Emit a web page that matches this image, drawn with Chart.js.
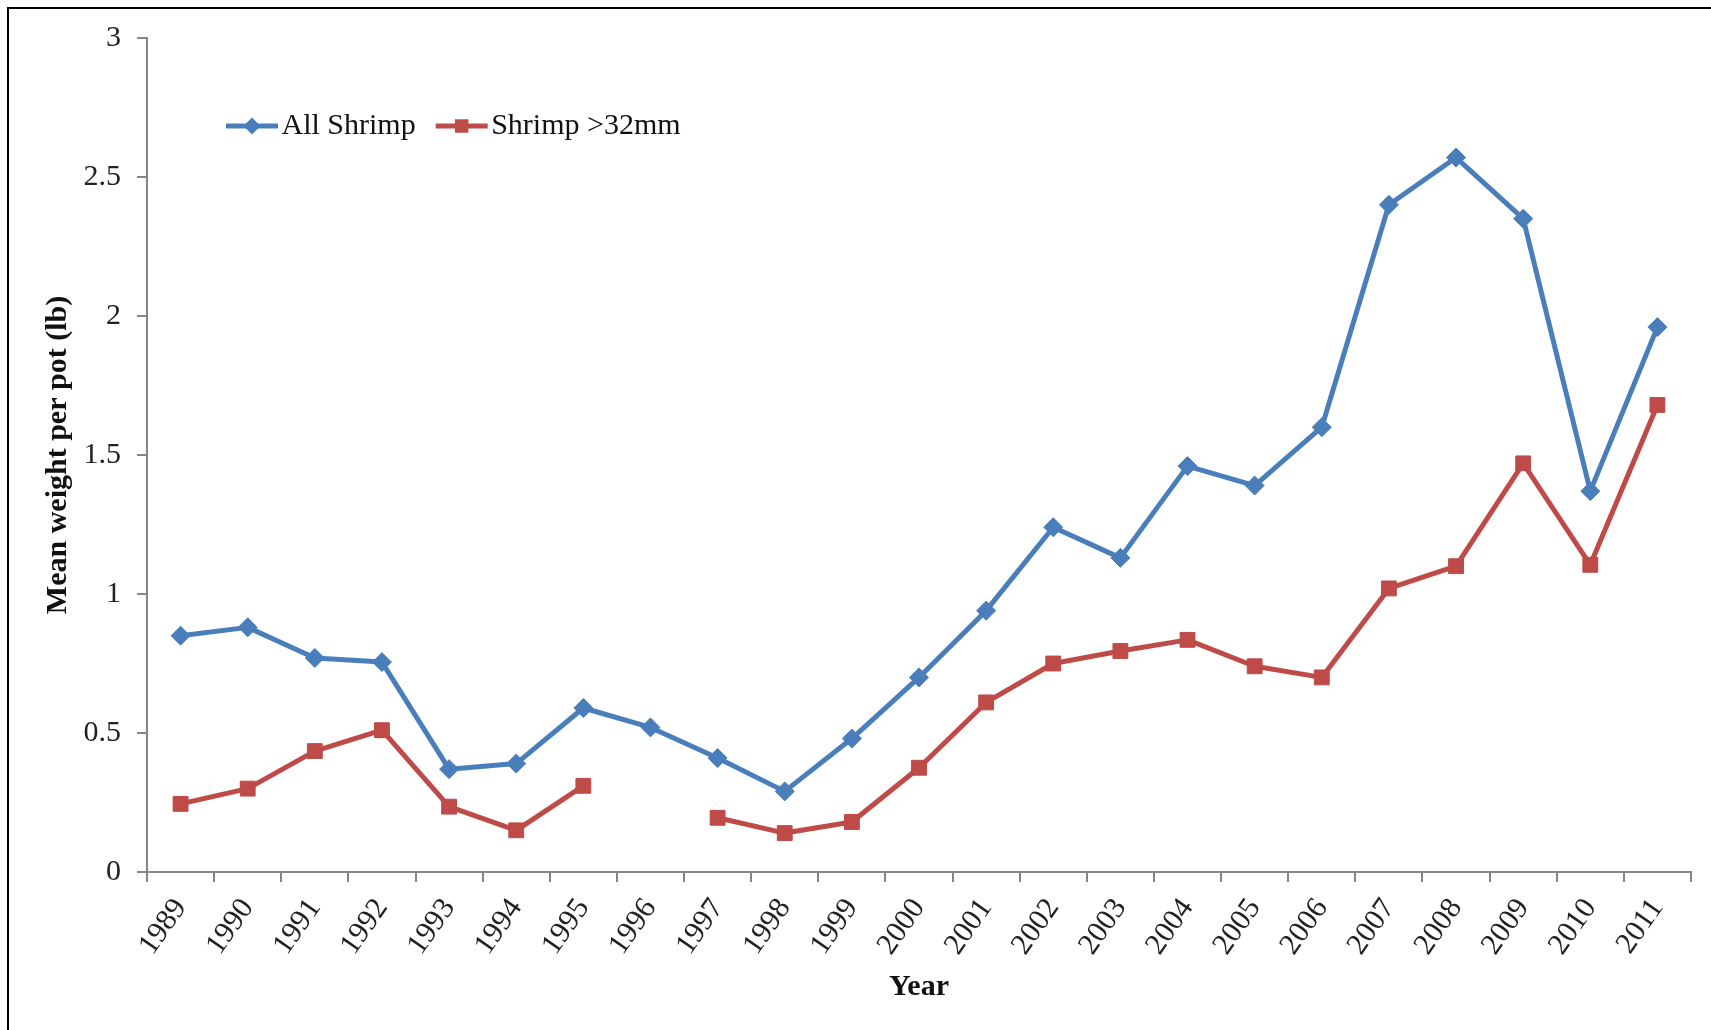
<!DOCTYPE html>
<html lang="en">
<head>
<meta charset="UTF-8">
<title>Mean weight per pot</title>
<script src="https://cdn.jsdelivr.net/npm/chart.js"></script>
<style>
  html, body { margin: 0; padding: 0; background: #fff; overflow: hidden; }
  #wrap { position: relative; width: 1711px; height: 1030px; }
  #frame { position: absolute; left: 7px; top: 7px; right: -10px; bottom: -10px;
           border-left: 2px solid #000; border-top: 2px solid #000; pointer-events: none; }
  canvas { position: absolute; left: 0; top: 0; }
</style>
</head>
<body>
<div id="wrap">
  <canvas id="shrimpChart" width="1711" height="1030"></canvas>
  <div id="frame"></div>
</div>

<script>
const years = ['1989', '1990', '1991', '1992', '1993', '1994', '1995', '1996', '1997', '1998', '1999', '2000',
               '2001', '2002', '2003', '2004', '2005', '2006', '2007', '2008', '2009', '2010', '2011'];
const allShrimp = [0.85, 0.88, 0.77, 0.755, 0.37, 0.39, 0.59, 0.52, 0.41, 0.29, 0.48, 0.70,
                   0.94, 1.24, 1.13, 1.46, 1.39, 1.60, 2.40, 2.57, 2.35, 1.37, 1.96];
const shrimpOver32 = [0.245, 0.30, 0.435, 0.51, 0.235, 0.15, 0.31, null, 0.195, 0.14, 0.18, 0.375,
                      0.61, 0.75, 0.795, 0.835, 0.74, 0.70, 1.02, 1.10, 1.47, 1.105, 1.68];
const yTicks = [0, 0.5, 1, 1.5, 2, 2.5, 3];

const BLUE = '#4A7EBB';
const RED = '#BE4B48';
const AXIS = '#868686';
const FONT = '"Liberation Serif", "Times New Roman", serif';

function drawMarker(ctx, style, x, y, r, color) {
    ctx.fillStyle = color;
    ctx.beginPath();
    if (style === 'rectRot') {
        ctx.moveTo(x - r, y);
        ctx.lineTo(x, y - r);
        ctx.lineTo(x + r, y);
        ctx.lineTo(x, y + r);
    } else {
        const h = r * Math.SQRT1_2;
        ctx.rect(x - h, y - h, 2 * h, 2 * h);
    }
    ctx.closePath();
    ctx.fill();
}

// legend sits inside the plot, like the Excel original
const insideLegend = {
    id: 'insideLegend',
    afterDraw(chart) {
        const ctx = chart.ctx;
        ctx.save();
        ctx.font = '30px ' + FONT;
        ctx.textBaseline = 'middle';
        let x = 226;
        const y = 126;
        chart.data.datasets.forEach(ds => {
            ctx.strokeStyle = ds.borderColor;
            ctx.lineWidth = ds.borderWidth;
            ctx.beginPath();
            ctx.moveTo(x, y);
            ctx.lineTo(x + 52, y);
            ctx.stroke();
            drawMarker(ctx, ds.pointStyle, x + 26, y, ds.pointRadius - 1, ds.borderColor);
            ctx.fillStyle = '#111';
            ctx.fillText(ds.label, x + 55.5, y);
            x += 55.5 + ctx.measureText(ds.label).width + 20;
        });
        ctx.restore();
    }
};

const ctx = document.getElementById('shrimpChart').getContext('2d');
new Chart(ctx, {
    type: 'line',
    data: {
        labels: years,
        datasets: [{
            label: 'All Shrimp',
            data: allShrimp,
            borderColor: BLUE,
            backgroundColor: BLUE,
            borderWidth: 5,
            pointStyle: 'rectRot',
            pointRadius: 9.5,
            pointHoverRadius: 9.5,
            pointBorderWidth: 1,
            borderJoinStyle: 'round',
            tension: 0
        }, {
            label: 'Shrimp >32mm',
            data: shrimpOver32,
            borderColor: RED,
            backgroundColor: RED,
            borderWidth: 5,
            pointStyle: 'rect',
            pointRadius: 10.5,
            pointHoverRadius: 10.5,
            pointBorderWidth: 1,
            borderJoinStyle: 'round',
            spanGaps: false,
            tension: 0
        }]
    },
    options: {
        responsive: false,
        animation: false,
        layout: { padding: { top: 38, right: 20, left: 0, bottom: 0 } },
        plugins: {
            legend: { display: false },
            tooltip: { enabled: false }
        },
        scales: {
            x: {
                type: 'category',
                offset: true,
                grid: {
                    offset: true,
                    drawOnChartArea: false,
                    drawTicks: true,
                    tickLength: 10,
                    color: AXIS,
                    lineWidth: 2
                },
                border: { color: AXIS, width: 2 },
                ticks: {
                    autoSkip: false,
                    minRotation: 55,
                    maxRotation: 55,
                    padding: 10,
                    color: '#222',
                    font: { family: FONT, size: 30 }
                },
                title: {
                    display: true,
                    text: 'Year',
                    color: '#111',
                    font: { family: FONT, size: 30, weight: 'bold' },
                    padding: { top: 4, bottom: 25 }
                },
                afterFit(scale) { scale.height = 158; }
            },
            y: {
                min: 0,
                max: 3,
                afterBuildTicks(scale) { scale.ticks = yTicks.map(v => ({ value: v })); },
                grid: {
                    drawOnChartArea: false,
                    drawTicks: true,
                    tickLength: 10,
                    color: AXIS,
                    lineWidth: 2
                },
                border: { color: AXIS, width: 2 },
                ticks: {
                    padding: 16,
                    color: '#222',
                    font: { family: FONT, size: 30 },
                    callback: v => String(v)
                },
                title: {
                    display: true,
                    text: 'Mean weight per pot (lb)',
                    color: '#111',
                    font: { family: FONT, size: 30, weight: 'bold' },
                    padding: { top: 40, bottom: 0 }
                },
                afterFit(scale) { scale.width = 147; }
            }
        }
    },
    plugins: [insideLegend]
});
</script>
</body>
</html>
